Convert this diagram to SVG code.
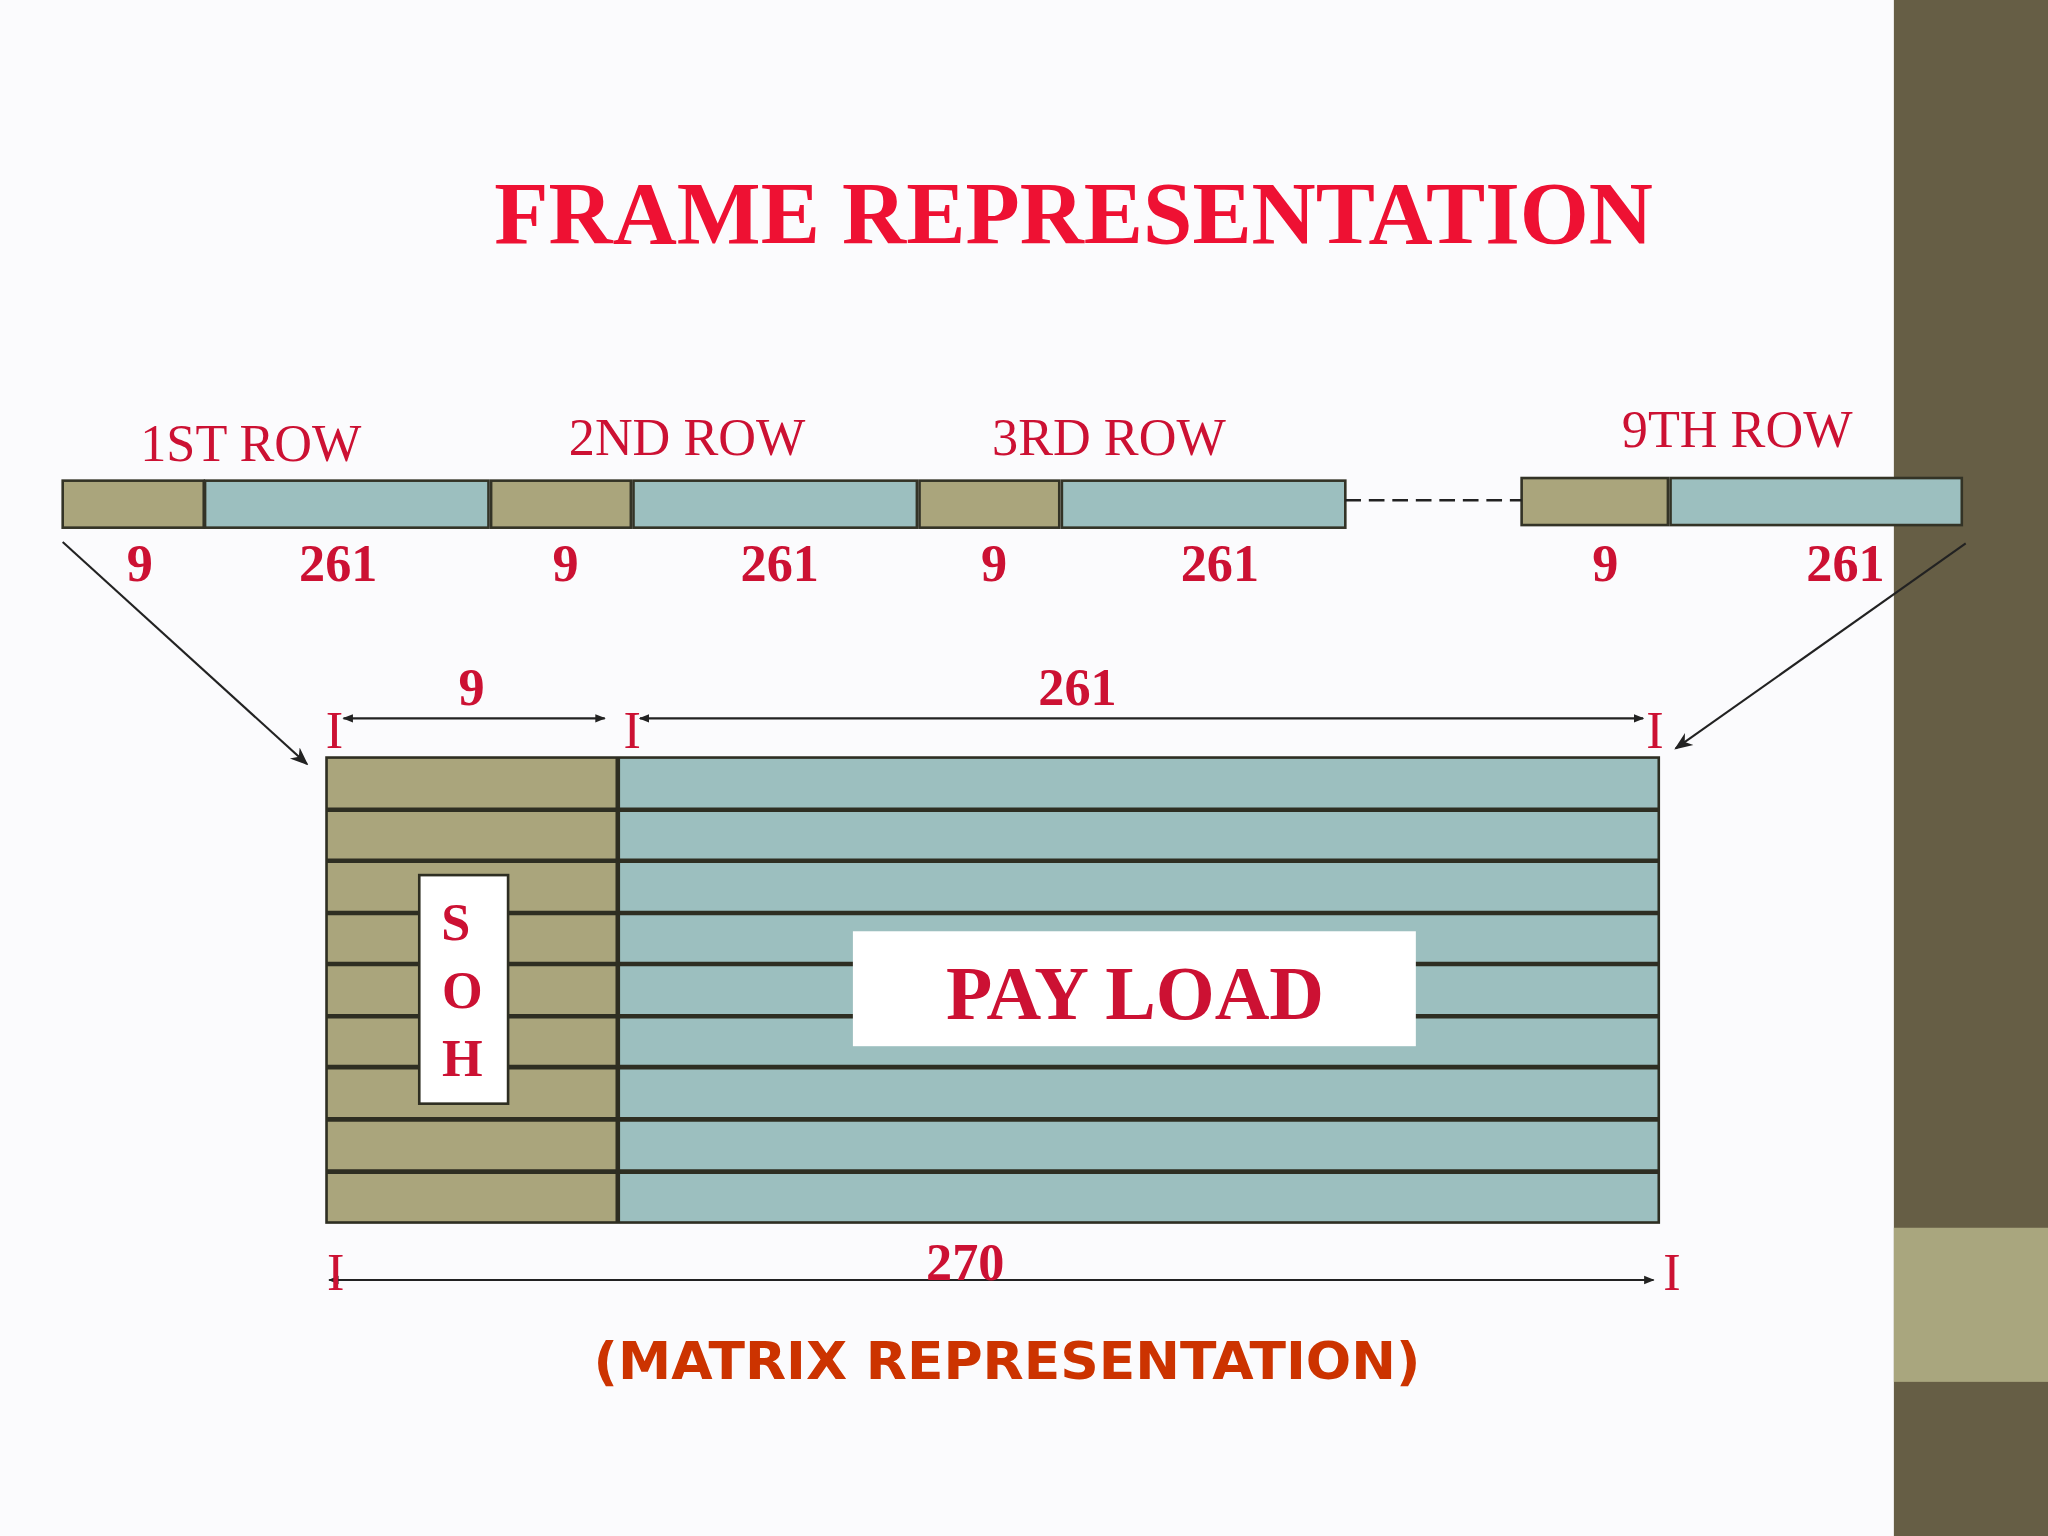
<svg xmlns="http://www.w3.org/2000/svg" width="2048" height="1536" viewBox="0 0 2048 1536">
<defs>
<style>
.t{font-family:"Liberation Serif","Times New Roman",serif;fill:#cc1133}
.b{font-weight:bold}
.tan{fill:#aaa57c;stroke:#333326;stroke-width:2}
.teal{fill:#9cbfbf;stroke:#333326;stroke-width:2}
.ln{stroke:#222;stroke-width:1.6;fill:none}
</style>
<marker id="ah" viewBox="0 0 10 10" refX="9" refY="5" markerWidth="8" markerHeight="8" orient="auto-start-reverse" markerUnits="userSpaceOnUse"><path d="M0,1 L10,5 L0,9 z" fill="#222"/></marker>
<marker id="ah2" viewBox="0 0 10 10" refX="9" refY="5" markerWidth="14" markerHeight="14" orient="auto-start-reverse" markerUnits="userSpaceOnUse"><path d="M0,1 L10,5 L0,9 L3,5 z" fill="#222"/></marker>
</defs>
<rect width="2048" height="1536" fill="#fbfbfd"/>
<g transform="scale(1.30612)">
<rect x="1450" y="0" width="118" height="1176" fill="#665e45"/>
<rect x="1450" y="940" width="118" height="118" fill="#a9a67e"/>
<text x="822" y="186" text-anchor="middle" class="t b" style="fill:#ee1133" font-size="68">FRAME REPRESENTATION</text>
<g id="toprow">
<text x="192" y="353" text-anchor="middle" class="t" font-size="40">1ST ROW</text>
<text x="526" y="348" text-anchor="middle" class="t" font-size="40">2ND ROW</text>
<text x="849" y="348" text-anchor="middle" class="t" font-size="40">3RD ROW</text>
<text x="1330" y="342" text-anchor="middle" class="t" font-size="40">9TH  ROW</text>
<rect class="tan" x="48" y="368" width="108" height="36"/>
<rect class="teal" x="157" y="368" width="217" height="36"/>
<rect class="tan" x="376" y="368" width="107" height="36"/>
<rect class="teal" x="485" y="368" width="217" height="36"/>
<rect class="tan" x="704" y="368" width="107" height="36"/>
<rect class="teal" x="813" y="368" width="217" height="36"/>
<rect class="tan" x="1165" y="366" width="112" height="36"/>
<rect class="teal" x="1279" y="366" width="223" height="36"/>
<g class="t b" font-size="40" text-anchor="middle">
<text x="107" y="445">9</text><text x="259" y="445">261</text>
<text x="433" y="445">9</text><text x="597" y="445">261</text>
<text x="761" y="445">9</text><text x="934" y="445">261</text>
<text x="1229" y="445">9</text><text x="1413" y="445">261</text>
</g>
</g>
<g id="matrix">
<rect x="250" y="580" width="223" height="356" fill="#aaa57c"/>
<rect x="473" y="580" width="797" height="356" fill="#9cbfbf"/>
<g stroke="#2e2e22" stroke-width="3.5">
<line x1="250" y1="620" x2="1270" y2="620"/><line x1="250" y1="659" x2="1270" y2="659"/>
<line x1="250" y1="699" x2="1270" y2="699"/><line x1="250" y1="738" x2="1270" y2="738"/>
<line x1="250" y1="778" x2="1270" y2="778"/><line x1="250" y1="817" x2="1270" y2="817"/>
<line x1="250" y1="857" x2="1270" y2="857"/><line x1="250" y1="897" x2="1270" y2="897"/>
<line x1="473" y1="580" x2="473" y2="936"/>
</g>
<rect x="250" y="580" width="1020" height="356" fill="none" stroke="#2e2e22" stroke-width="2"/>
<rect x="321" y="670" width="68" height="175" fill="#fff" stroke="#2e2e22" stroke-width="2"/>
<g class="t b" font-size="40" text-anchor="middle"><text x="349" y="720">S</text><text x="354" y="772">O</text><text x="354" y="824">H</text></g>
<rect x="653" y="713" width="431" height="88" fill="#fff"/>
<text x="869" y="780" text-anchor="middle" class="t b" font-size="58">PAY  LOAD</text>
</g>
<g id="connectors">
<line x1="1030" y1="383" x2="1165" y2="383" stroke="#222" stroke-width="2" stroke-dasharray="12,6"/>
<line class="ln" x1="48" y1="415" x2="235" y2="585" marker-end="url(#ah2)"/>
<line class="ln" x1="1505" y1="416" x2="1283" y2="573" marker-end="url(#ah2)"/>
<line class="ln" x1="263" y1="550" x2="463" y2="550" marker-start="url(#ah)" marker-end="url(#ah)"/>
<line class="ln" x1="490" y1="550" x2="1258" y2="550" marker-start="url(#ah)" marker-end="url(#ah)"/>
<line class="ln" x1="252" y1="980" x2="1266" y2="980" marker-start="url(#ah)" marker-end="url(#ah)"/>
</g>
<g class="t" font-size="40" text-anchor="middle">
<text x="256" y="573">I</text><text x="484" y="573">I</text><text x="1267" y="573">I</text>
<text x="257" y="988">I</text><text x="1280" y="988">I</text>
</g>
<g class="t b" font-size="40" text-anchor="middle">
<text x="361" y="540">9</text><text x="825" y="540">261</text><text x="739" y="980">270</text>
</g>
<text x="771" y="1056" text-anchor="middle" font-family="DejaVu Sans,Verdana,sans-serif" font-weight="bold" font-size="40" fill="#cc3300" textLength="633" lengthAdjust="spacingAndGlyphs">(MATRIX REPRESENTATION)</text>
</g>
</svg>
